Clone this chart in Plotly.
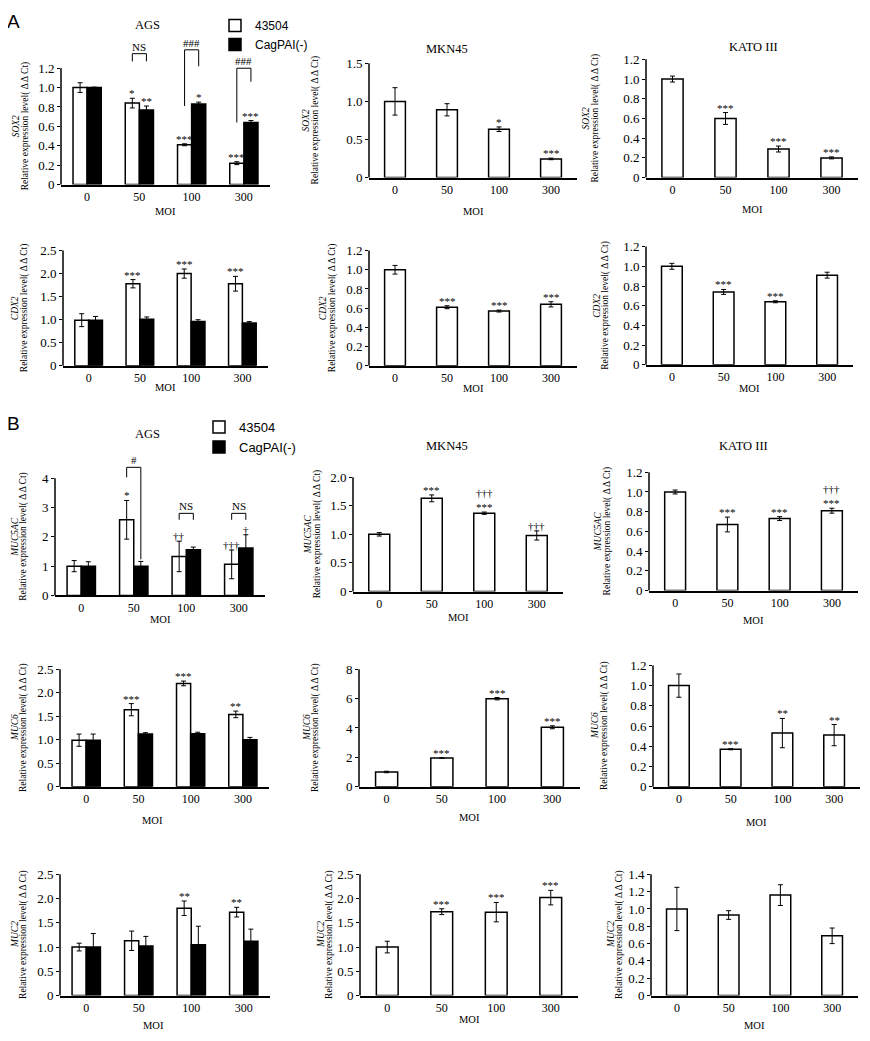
import plotly.graph_objects as go

# ---------------- data ----------------
moi = ["0", "50", "100", "300"]
series_names = ["43504", "CagPAI(-)"]

# SOX2
sox2_ags_43504 = [1.00, 0.84, 0.41, 0.22]
sox2_ags_43504_err = [0.05, 0.05, 0.01, 0.015]
sox2_ags_43504_sig = ["", "*", "***", "***"]
sox2_ags_cagpai = [1.00, 0.77, 0.83, 0.64]
sox2_ags_cagpai_err = [0.005, 0.04, 0.02, 0.02]
sox2_ags_cagpai_sig = ["", "**", "*", "***"]
sox2_mkn45 = [1.00, 0.89, 0.635, 0.245]
sox2_mkn45_err = [0.18, 0.08, 0.03, 0.01]
sox2_mkn45_sig = ["", "", "*", "***"]
sox2_kato = [1.00, 0.60, 0.29, 0.20]
sox2_kato_err = [0.03, 0.06, 0.03, 0.01]
sox2_kato_sig = ["", "***", "***", "***"]

# CDX2
cdx2_ags_43504 = [0.99, 1.78, 2.00, 1.78]
cdx2_ags_43504_err = [0.14, 0.09, 0.10, 0.16]
cdx2_ags_43504_sig = ["", "***", "***", "***"]
cdx2_ags_cagpai = [0.99, 1.01, 0.96, 0.93]
cdx2_ags_cagpai_err = [0.08, 0.05, 0.04, 0.03]
cdx2_ags_cagpai_sig = ["", "", "", ""]
cdx2_mkn45 = [1.00, 0.61, 0.57, 0.64]
cdx2_mkn45_err = [0.045, 0.015, 0.01, 0.027]
cdx2_mkn45_sig = ["", "***", "***", "***"]
cdx2_kato = [1.00, 0.74, 0.64, 0.91]
cdx2_kato_err = [0.03, 0.025, 0.01, 0.03]
cdx2_kato_sig = ["", "***", "***", ""]

# MUC5AC
muc5ac_ags_43504 = [1.00, 2.58, 1.33, 1.06]
muc5ac_ags_43504_err = [0.19, 0.66, 0.52, 0.49]
muc5ac_ags_43504_sig = ["", "*", "††", "†††"]
muc5ac_ags_cagpai = [1.00, 1.00, 1.56, 1.62]
muc5ac_ags_cagpai_err = [0.15, 0.16, 0.09, 0.45]
muc5ac_ags_cagpai_sig = ["", "", "", "†"]
muc5ac_mkn45 = [1.00, 1.63, 1.37, 0.98]
muc5ac_mkn45_err = [0.03, 0.06, 0.02, 0.08]
muc5ac_mkn45_sig = ["", "***", "†††<br>***", "†††"]
muc5ac_kato = [1.00, 0.67, 0.73, 0.81]
muc5ac_kato_err = [0.02, 0.075, 0.02, 0.025]
muc5ac_kato_sig = ["", "***", "***", "†††<br>***"]

# MUC6
muc6_ags_43504 = [0.99, 1.64, 2.20, 1.54]
muc6_ags_43504_err = [0.13, 0.13, 0.05, 0.07]
muc6_ags_43504_sig = ["", "***", "***", "**"]
muc6_ags_cagpai = [0.99, 1.12, 1.13, 1.00]
muc6_ags_cagpai_err = [0.13, 0.03, 0.03, 0.05]
muc6_ags_cagpai_sig = ["", "", "", ""]
muc6_mkn45 = [1.00, 1.95, 6.00, 4.05]
muc6_mkn45_err = [0.05, 0.02, 0.08, 0.10]
muc6_mkn45_sig = ["", "***", "***", "***"]
muc6_kato = [1.00, 0.37, 0.53, 0.51]
muc6_kato_err = [0.115, 0.005, 0.145, 0.105]
muc6_kato_sig = ["", "***", "**", "**"]

# MUC2
muc2_ags_43504 = [1.00, 1.13, 1.80, 1.72]
muc2_ags_43504_err = [0.08, 0.20, 0.15, 0.10]
muc2_ags_43504_sig = ["", "", "**", "**"]
muc2_ags_cagpai = [1.00, 1.02, 1.05, 1.12]
muc2_ags_cagpai_err = [0.28, 0.20, 0.38, 0.25]
muc2_ags_cagpai_sig = ["", "", "", ""]
muc2_mkn45 = [1.00, 1.73, 1.72, 2.02]
muc2_mkn45_err = [0.12, 0.06, 0.20, 0.15]
muc2_mkn45_sig = ["", "***", "***", "***"]
muc2_kato = [1.00, 0.93, 1.16, 0.69]
muc2_kato_err = [0.25, 0.05, 0.12, 0.09]
muc2_kato_sig = ["", "", "", ""]

# comparison brackets between strains (AGS): group index, label
sox2_brackets = [(1, "NS"), (2, "###"), (3, "###")]
muc5ac_brackets = [(1, "#"), (2, "NS"), (3, "NS")]

# ---------------- layout geometry (reference pixels) ----------------
PAGE_OFF = 8            # default body margin of the html page
W, H = 870 - PAGE_OFF, 1041 - PAGE_OFF
SERIF = "Liberation Serif, Times New Roman, serif"
SANS = "Liberation Sans, Arial, sans-serif"
BW = 0.27   # grouped bar width
SW = 0.40   # single bar width

# bracket geometry (left leg bottom, right leg bottom, top) in data units
sox2_bracket_geom = [(1.27, 1.27, 1.35), (0.81, 1.22, 1.39), (0.64, 1.06, 1.20)]
muc5ac_bracket_geom = [(4.03, 1.23, 4.37), (2.58, 2.58, 2.80), (2.58, 2.58, 2.80)]


def G(left, right, y0, refv, refp, top, dtick, fmt, R, tshift, moi_dy, moi_dx=0):
    return dict(left=left, right=right, y0=y0, refv=refv, refp=refp, top=top,
                dtick=dtick, fmt=fmt, R=R, tshift=tshift, moi_dy=moi_dy, moi_dx=moi_dx)


panels = [
    dict(g=G(61, 270, 180, 1.2, 62, 1.2, 0.2, 1, 1.45, -31, 27), gene="SOX2",
         w=(sox2_ags_43504, sox2_ags_43504_err, sox2_ags_43504_sig),
         b=(sox2_ags_cagpai, sox2_ags_cagpai_err, sox2_ags_cagpai_sig),
         legend="legend", brackets=(sox2_brackets, sox2_bracket_geom)),
    dict(g=G(369, 577, 173, 1.5, 57, 1.5, 0.5, 1, 1.5, -49, 34), gene="SOX2",
         w=(sox2_mkn45, sox2_mkn45_err, sox2_mkn45_sig)),
    dict(g=G(646, 858, 173, 1.2, 53, 1.2, 0.2, 1, 1.2, -46, 32), gene="SOX2",
         w=(sox2_kato, sox2_kato_err, sox2_kato_sig)),
    dict(g=G(63, 268, 364, 2.5, 247, 2.5, 0.5, 1, 2.5, -34, 22), gene="CDX2",
         w=(cdx2_ags_43504, cdx2_ags_43504_err, cdx2_ags_43504_sig),
         b=(cdx2_ags_cagpai, cdx2_ags_cagpai_err, cdx2_ags_cagpai_sig)),
    dict(g=G(369, 577, 364, 1.2, 247, 1.2, 0.2, 1, 1.2, -32, 23), gene="CDX2",
         w=(cdx2_mkn45, cdx2_mkn45_err, cdx2_mkn45_sig)),
    dict(g=G(646, 853, 363, 1.2, 243, 1.2, 0.2, 1, 1.2, -35, 24), gene="CDX2",
         w=(cdx2_kato, cdx2_kato_err, cdx2_kato_sig)),
    dict(g=G(55, 265, 597, 4, 478, 4, 1, 0, 4.5, -26, 24), gene="MUC5AC",
         w=(muc5ac_ags_43504, muc5ac_ags_43504_err, muc5ac_ags_43504_sig),
         b=(muc5ac_ags_cagpai, muc5ac_ags_cagpai_err, muc5ac_ags_cagpai_sig),
         legend="legend2", brackets=(muc5ac_brackets, muc5ac_bracket_geom)),
    dict(g=G(353, 563, 593, 2.0, 477, 2.0, 0.5, 1, 2.0, -31, 26), gene="MUC5AC",
         w=(muc5ac_mkn45, muc5ac_mkn45_err, muc5ac_mkn45_sig)),
    dict(g=G(649, 858, 592, 1.2, 472, 1.2, 0.2, 1, 1.2, -37, 30), gene="MUC5AC",
         w=(muc5ac_kato, muc5ac_kato_err, muc5ac_kato_sig)),
    dict(g=G(60, 269, 791, 2.5, 672, 2.5, 0.5, 1, 2.5, -31, 34, -12), gene="MUC6",
         w=(muc6_ags_43504, muc6_ags_43504_err, muc6_ags_43504_sig),
         b=(muc6_ags_cagpai, muc6_ags_cagpai_err, muc6_ags_cagpai_sig)),
    dict(g=G(359, 580, 791, 8, 672, 8, 2, 0, 8, -38, 31), gene="MUC6",
         w=(muc6_mkn45, muc6_mkn45_err, muc6_mkn45_sig)),
    dict(g=G(653, 860, 791, 1.2, 668, 1.2, 0.2, 1, 1.2, -44, 36), gene="MUC6",
         w=(muc6_kato, muc6_kato_err, muc6_kato_sig)),
    dict(g=G(60, 270, 1003, 2.5, 880, 2.5, 0.5, 1, 2.5, -31, 30, -12), gene="MUC2",
         w=(muc2_ags_43504, muc2_ags_43504_err, muc2_ags_43504_sig),
         b=(muc2_ags_cagpai, muc2_ags_cagpai_err, muc2_ags_cagpai_sig)),
    dict(g=G(360, 578, 1003, 2.5, 880, 2.5, 0.5, 1, 2.5, -25, 24), gene="MUC2",
         w=(muc2_mkn45, muc2_mkn45_err, muc2_mkn45_sig)),
    dict(g=G(651, 858, 1003, 1.4, 880, 1.4, 0.2, 1, 1.4, -26, 30), gene="MUC2",
         w=(muc2_kato, muc2_kato_err, muc2_kato_sig)),
]

cell_titles = [("AGS", 147, 18), ("MKN45", 447, 42), ("KATO III", 753, 40),
               ("AGS", 147, 433), ("MKN45", 447, 445), ("KATO III", 743, 445)]


def px_x(x):
    return (x - PAGE_OFF) / W


def px_y(y):
    return 1 - (y - PAGE_OFF) / H


fig = go.Figure()
shapes, annotations = [], []
layout = {}
pos = list(range(len(moi)))

bar_line = dict(color="black", width=1.5)
err_style = dict(type="data", color="black", thickness=1, width=2.5, visible=True)
star_font = dict(family=SERIF, size=11, color="black")
ytitle_font = dict(family=SERIF, size=9.5, color="black")

for n, p in enumerate(panels, start=1):
    g = p["g"]
    s = (g["y0"] - g["refp"]) / g["refv"]
    xd = [px_x(g["left"]), px_x(g["right"])]
    yd = [px_y(g["y0"]), px_y(g["y0"] - s * g["R"])]
    sfx = "" if n == 1 else str(n)
    xa, ya = "x" + sfx, "y" + sfx
    grouped = "b" in p
    leg = p.get("legend")

    wv, we, ws = p["w"]
    if grouped:
        woff, wwid = -BW, BW
        wx = [i - BW / 2 for i in pos]
    else:
        woff, wwid = -SW / 2, SW
        wx = pos
    fig.add_trace(go.Bar(
        x=pos, y=wv, width=wwid, offset=woff, name=series_names[0],
        marker=dict(color="white", line=bar_line),
        error_y=dict(array=we, **err_style),
        xaxis=xa, yaxis=ya, showlegend=bool(leg),
        legend=leg if leg else "legend"))
    sig_sets = [(wx, wv, we, ws)]
    if grouped:
        bv, be, bs = p["b"]
        bx = [i + BW / 2 for i in pos]
        fig.add_trace(go.Bar(
            x=pos, y=bv, width=BW, offset=0, name=series_names[1],
            marker=dict(color="black", line=bar_line),
            error_y=dict(array=be, **err_style),
            xaxis=xa, yaxis=ya, showlegend=bool(leg),
            legend=leg if leg else "legend"))
        sig_sets.append((bx, bv, be, bs))

    for xs, vs, es, ss in sig_sets:
        for xv, v, e, t in zip(xs, vs, es, ss):
            if t:
                annotations.append(dict(
                    x=xv, y=v + e, xref=xa, yref=ya, text=t, showarrow=False,
                    yanchor="bottom", yshift=-3, font=star_font))

    if "brackets" in p:
        labels, geoms = p["brackets"]
        for (gi, lab), (lb, rb, top) in zip(labels, geoms):
            xl, xr = gi - BW / 2, gi + BW / 2
            shapes.append(dict(
                type="path", xref=xa, yref=ya,
                path=f"M {xl},{lb} L {xl},{top} L {xr},{top} L {xr},{rb}",
                line=dict(color="black", width=1)))
            annotations.append(dict(
                x=gi, y=top, xref=xa, yref=ya, text=lab, showarrow=False,
                yanchor="bottom", yshift=-1, font=star_font))

    nt = int(round(g["top"] / g["dtick"]))
    tv = [i * g["dtick"] for i in range(nt + 1)]
    tt = ["0" if i == 0 else (f"{v:.1f}" if g["fmt"] == 1 else f"{v:g}") for i, v in enumerate(tv)]

    layout["xaxis" + sfx] = dict(
        domain=xd, anchor=ya, range=[-0.5, len(moi) - 0.5], tickvals=pos, ticktext=moi,
        showline=True, linecolor="black", linewidth=1.5, ticks="", showgrid=False,
        zeroline=False, tickfont=dict(family=SERIF, size=12, color="black"), fixedrange=True)
    layout["yaxis" + sfx] = dict(
        domain=yd, anchor=xa, range=[0, g["R"]], tickvals=tv, ticktext=tt,
        showline=False, ticks="outside", ticklen=3, tickwidth=1, tickcolor="black",
        showgrid=False, zeroline=False, tickfont=dict(family=SERIF, size=13, color="black"),
        fixedrange=True)

    # visible y-axis line up to the last tick
    shapes.append(dict(type="line", xref="paper", yref="paper",
                       x0=xd[0], x1=xd[0], y0=yd[0], y1=px_y(g["y0"] - s * g["top"]),
                       line=dict(color="black", width=1.5)))

    # y title: two rotated lines (gene name in italics, then the measure)
    annotations.append(dict(
        xref=xa + " domain", x=0, xanchor="center", xshift=g["tshift"] - 14,
        yref=ya, y=g["top"] / 2, yanchor="middle", textangle=-90, showarrow=False,
        text=f"<i>{p['gene']}</i>", font=ytitle_font))
    annotations.append(dict(
        xref=xa + " domain", x=0, xanchor="center", xshift=g["tshift"] - 5,
        yref=ya, y=g["top"] / 2, yanchor="middle", textangle=-90, showarrow=False,
        text="Relative expression level( Δ Δ Ct)", font=ytitle_font))
    # x title
    annotations.append(dict(
        xref=xa + " domain", x=0.5, xshift=g["moi_dx"], yref=ya + " domain", y=0,
        yshift=-g["moi_dy"], yanchor="middle", showarrow=False, text="MOI",
        font=dict(family=SERIF, size=10.5, color="black")))

for t, x, y in cell_titles:
    annotations.append(dict(xref="paper", yref="paper", x=px_x(x), y=px_y(y), text=t,
                            showarrow=False, xanchor="center", yanchor="middle",
                            font=dict(family=SERIF, size=12.5, color="black")))

for t, x, y in [("A", 13, 15), ("B", 13, 423)]:
    annotations.append(dict(xref="paper", yref="paper", x=px_x(x), y=px_y(y), text=t,
                            showarrow=False, xanchor="center", yanchor="middle",
                            font=dict(family=SANS, size=19, color="black")))

fig.update_layout(
    width=W, height=H, margin=dict(l=0, r=0, t=0, b=0),
    paper_bgcolor="white", plot_bgcolor="white", barmode="overlay",
    shapes=shapes, annotations=annotations,
    legend=dict(x=px_x(215), y=px_y(4), xanchor="left", yanchor="top",
                font=dict(family=SANS, size=12, color="black"),
                bgcolor="rgba(0,0,0,0)", tracegroupgap=0, itemwidth=30),
    legend2=dict(x=px_x(199), y=px_y(411), xanchor="left", yanchor="top",
                 font=dict(family=SANS, size=13, color="black"),
                 bgcolor="rgba(0,0,0,0)", tracegroupgap=0, itemwidth=30),
    **layout)

fig.write_html("out.html")
